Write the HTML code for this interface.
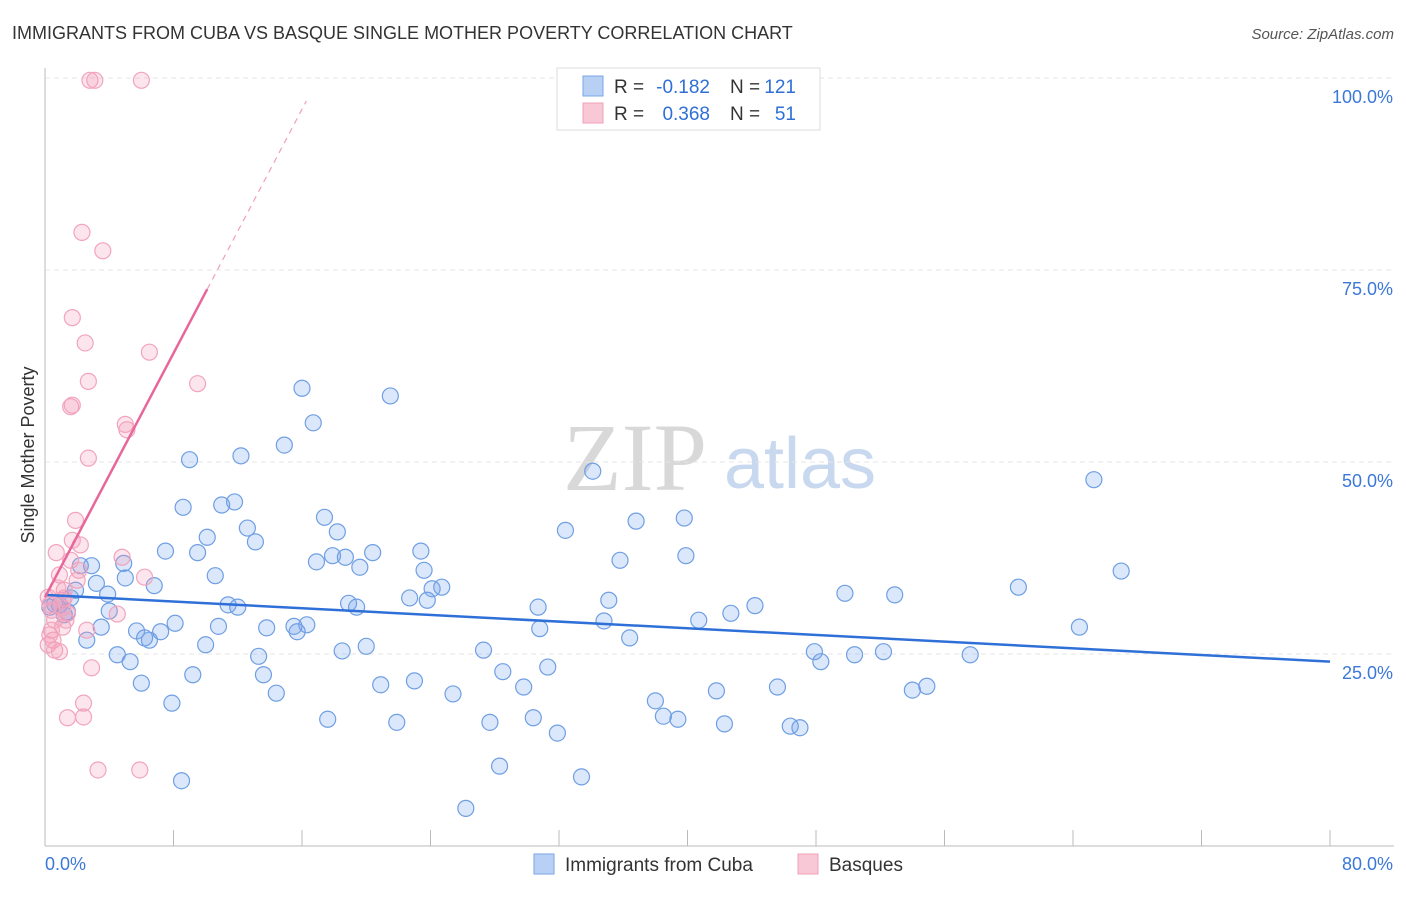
<!DOCTYPE html>
<html><head><meta charset="utf-8"><style>
body{margin:0;background:#fff;font-family:"Liberation Sans",sans-serif}
</style></head><body>
<svg id="chart" width="1406" height="892" xmlns="http://www.w3.org/2000/svg">
<text x="12" y="39" font-size="18" fill="#333">IMMIGRANTS FROM CUBA VS BASQUE SINGLE MOTHER POVERTY CORRELATION CHART</text>
<text x="1394" y="39" font-size="15" fill="#555" text-anchor="end" font-style="italic">Source: ZipAtlas.com</text>
<g><text x="635" y="490" font-size="96" fill="#d8d8d8" text-anchor="middle" font-family="Liberation Serif,serif">ZIP</text><text x="800" y="488" font-size="72" fill="#c8d8ef" text-anchor="middle">atlas</text></g>
<g id="grid"></g><g id="axes"></g><g id="pts"></g><g id="lines"></g>
<text transform="translate(34,455) rotate(-90)" font-size="18" fill="#333" text-anchor="middle">Single Mother Poverty</text>
<g>
<rect x="557" y="68" width="263" height="62" fill="#fff" stroke="#ddd"/>
<rect x="583" y="76" width="20" height="20" fill="#b8d0f4" stroke="#7aa6e6"/>
<rect x="583" y="103" width="20" height="20" fill="#f9c8d6" stroke="#f0a0ba"/>
<text x="614" y="93" font-size="19" fill="#333">R =</text>
<text x="710" y="93" font-size="19" fill="#2f6fd6" text-anchor="end">-0.182</text>
<text x="730" y="93" font-size="19" fill="#333">N =</text>
<text x="796" y="93" font-size="19" fill="#2f6fd6" text-anchor="end">121</text>
<text x="614" y="120" font-size="19" fill="#333">R =</text>
<text x="710" y="120" font-size="19" fill="#2f6fd6" text-anchor="end">0.368</text>
<text x="730" y="120" font-size="19" fill="#333">N =</text>
<text x="796" y="120" font-size="19" fill="#2f6fd6" text-anchor="end">51</text>
</g>
<g>
<rect x="534" y="854" width="20" height="20" fill="#b8d0f4" stroke="#7aa6e6"/>
<text x="565" y="871" font-size="19" fill="#333">Immigrants from Cuba</text>
<rect x="798" y="854" width="20" height="20" fill="#f9c8d6" stroke="#f0a0ba"/>
<text x="829" y="871" font-size="19" fill="#333">Basques</text>
</g>
</svg>
<script>
const blueX=[0.3,0.6,0.9,1.2,1.4,1.6,1.9,2.2,2.6,2.9,3.2,3.5,3.9,4.0,4.5,4.9,5.0,5.3,5.7,6.0,6.2,6.5,6.8,7.2,7.5,7.9,8.1,8.5,8.6,9.0,9.2,9.5,10.0,10.1,10.6,10.8,11.0,11.4,11.8,12.0,12.2,12.6,13.1,13.3,13.6,13.8,14.4,14.9,15.5,15.7,16.0,16.3,16.7,16.9,17.4,17.6,17.9,18.2,18.5,18.7,18.9,19.4,19.6,20.0,20.4,20.9,21.5,21.9,22.7,23.0,23.4,23.6,23.8,24.1,24.7,25.4,26.2,27.3,27.7,28.3,28.5,29.8,30.4,30.7,30.8,31.3,31.9,32.4,33.4,34.1,34.8,35.1,35.8,36.4,36.8,38.0,38.5,39.4,39.8,39.9,40.7,41.8,42.3,42.7,44.2,45.6,46.4,47.0,47.9,48.3,49.8,50.4,52.2,52.9,54.0,54.9,57.6,60.6,64.4,65.3,67.0];
const blueY=[31.1,31.5,31.4,30.1,30.5,32.3,33.3,36.5,26.8,36.5,34.2,28.5,32.8,30.6,24.9,36.8,34.9,24.0,28.0,21.2,27.1,26.8,33.9,27.9,38.4,18.6,29.0,8.5,44.1,50.3,22.3,38.2,26.2,40.2,35.2,28.6,44.4,31.4,44.8,31.1,50.8,41.4,39.6,24.7,22.3,28.4,19.9,52.2,28.6,27.9,59.6,28.8,55.1,37.0,42.8,16.5,37.8,40.9,25.4,37.6,31.6,31.1,36.3,26.0,38.2,21.0,58.6,16.1,32.3,21.5,38.4,35.9,32.0,33.5,33.7,19.8,4.9,25.5,16.1,10.4,22.7,20.7,16.7,31.1,28.3,23.3,14.7,41.1,9.0,48.8,29.3,32.0,37.2,27.1,42.3,18.9,16.9,16.5,42.7,37.8,29.4,20.2,15.9,30.3,31.3,20.7,15.6,15.4,25.3,24.0,32.9,24.9,25.3,32.7,20.3,20.8,24.9,33.7,28.5,47.7,35.8];
const pinkX=[0.2,0.3,0.4,0.5,0.6,0.7,0.9,1.1,1.1,1.2,1.4,1.4,1.6,1.7,1.7,1.9,2.0,2.1,2.2,2.3,2.4,2.4,2.5,2.6,2.7,2.7,2.9,2.8,3.1,3.3,3.6,4.5,4.8,5.0,5.1,5.9,6.0,6.2,6.5,9.5,0.3,0.6,0.9,1.2,1.6,0.2,0.4,0.8,1.3,1.7,1.1];
const pinkY=[32.4,31.4,28.1,26.8,25.5,38.2,25.3,32.0,28.5,33.3,30.3,16.7,57.2,57.4,68.8,42.4,34.6,35.9,39.2,79.9,16.8,18.6,65.5,28.1,60.5,50.5,23.2,99.7,99.7,9.9,77.5,30.2,37.6,54.9,54.2,9.9,99.7,35.0,64.3,60.2,27.5,29.4,35.3,32.3,37.2,26.2,30.7,33.6,29.4,39.8,31.0];
const yTicks=[25,50,75,100];
const blueTrend=[32.7,24.0];
const pinkTrend=[32.4,72.5];
const pinkTrendX=[0,10.1];
const NS="http://www.w3.org/2000/svg";
const sx=v=>45+v*16.0625, sy=v=>846-v*7.68;
function mk(t,a,p){const e=document.createElementNS(NS,t);for(const k in a)e.setAttribute(k,a[k]);p.appendChild(e);return e;}
const grid=document.getElementById('grid'),axes=document.getElementById('axes'),pts=document.getElementById('pts'),lines=document.getElementById('lines');
yTicks.forEach(t=>{const l=mk('line',{x1:45,x2:1394,y1:sy(t),y2:sy(t),stroke:'#e4e4e4','stroke-dasharray':'5,4'},grid);


const tx=mk('text',{x:1393,y:sy(t)+25,'font-size':18,fill:'#3b78d8','text-anchor':'end'},axes);tx.textContent=t.toFixed(1)+'%';

});
const ax=mk('line',{x1:45,x2:1394,y1:846,y2:846,stroke:'#bbb'},axes);


const ay=mk('line',{x1:45,x2:45,y1:68,y2:846,stroke:'#bbb'},axes);


for(let i=1;i<=10;i++){const t=mk('line',{x1:sx(i*8),x2:sx(i*8),y1:830,y2:846,stroke:'#bbb'},axes);

}
const x0=mk('text',{x:45,y:870,'font-size':18,fill:'#3b78d8'},axes);x0.textContent='0.0%';


const x1=mk('text',{x:1393,y:870,'font-size':18,fill:'#3b78d8','text-anchor':'end'},axes);x1.textContent='80.0%';


blueX.forEach((x,i)=>{const c=mk('circle',{cx:sx(x),cy:sy(blueY[i]),r:8,fill:'rgba(110,160,235,0.25)',stroke:'#6f9fe3','stroke-width':1.2},pts);

});
pinkX.forEach((x,i)=>{const c=mk('circle',{cx:sx(x),cy:sy(pinkY[i]),r:8,fill:'rgba(245,150,180,0.25)',stroke:'#f2a4bd','stroke-width':1.2},pts);

});
const bl=mk('line',{x1:sx(0),y1:sy(blueTrend[0]),x2:sx(80),y2:sy(blueTrend[1]),stroke:'#2f70d8','stroke-width':2.5},lines);


const slope=(pinkTrend[1]-pinkTrend[0])/(pinkTrendX[1]-pinkTrendX[0]);
const pl=mk('line',{x1:sx(pinkTrendX[0]),y1:sy(pinkTrend[0]),x2:sx(pinkTrendX[1]),y2:sy(pinkTrend[1]),stroke:'#e8679a','stroke-width':2.5},lines);


const xe=pinkTrendX[0]+(97-pinkTrend[0])/slope;
const pd=mk('line',{x1:sx(pinkTrendX[1]),y1:sy(pinkTrend[1]),x2:sx(xe),y2:sy(97),stroke:'#f0a0ba','stroke-width':1.2,'stroke-dasharray':'6,5'},lines);


</script>
</body></html>
